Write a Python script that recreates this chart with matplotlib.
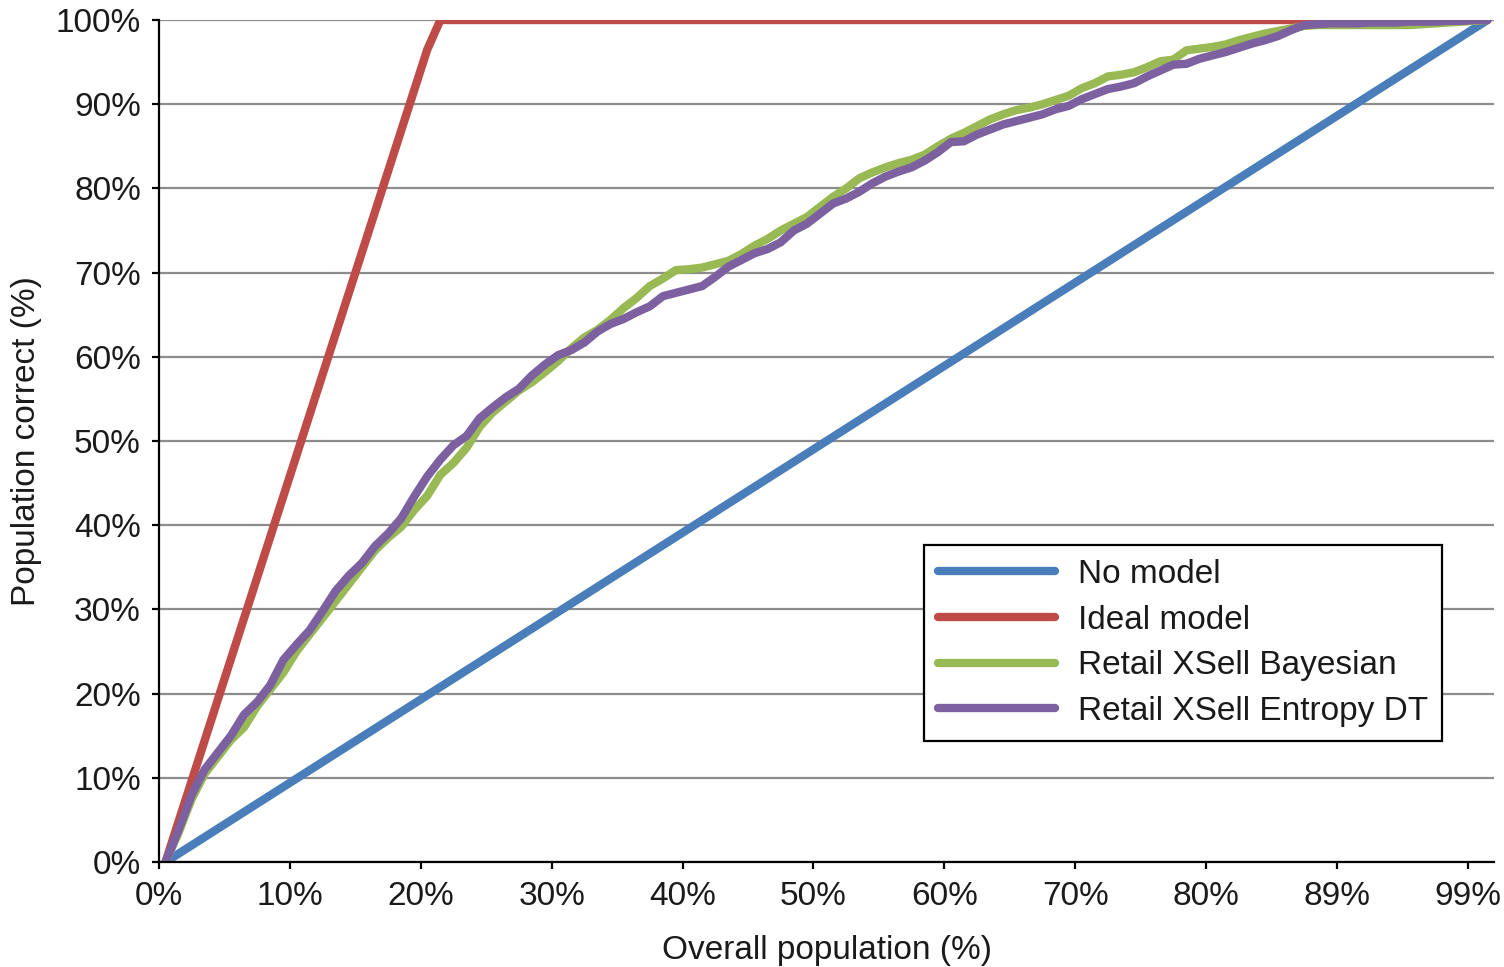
import matplotlib.pyplot as plt
from matplotlib.ticker import FuncFormatter

plt.rcParams['font.family'] = ['Liberation Sans', 'DejaVu Sans']

# x tick labels (every 10th category)
tick_labels = ['0%', '10%', '20%', '30%', '40%', '50%', '60%', '70%', '80%', '89%', '99%']

# straight reference lines (category index, % correct)
no_model_x = [0, 101]
no_model_y = [0, 100]
ideal_x = [0, 20, 21, 101]
ideal_y = [0, 96.5, 100, 100]

# model curves, one value per category 0..101
bayesian = [0, 3.5, 7.5, 10.5, 12.5, 14.5, 16.0, 18.5, 20.5, 22.5,
            25.0, 27.0, 29.0, 31.0, 33.0, 35.0, 37.0, 38.5, 39.8, 41.8,
            43.5, 46.0, 47.4, 49.2, 51.7, 53.4, 54.7, 56.0, 57.0, 58.2,
            59.5, 61.0, 62.3, 63.2, 64.4, 65.8, 67.0, 68.4, 69.3, 70.3,
            70.4, 70.6, 71.0, 71.4, 72.2, 73.2, 74.0, 75.0, 75.8, 76.6,
            77.8, 79.0, 80.0, 81.2, 81.9, 82.5, 83.0, 83.4, 84.0, 85.0,
            85.9, 86.6, 87.4, 88.2, 88.8, 89.3, 89.6, 90.0, 90.5, 91.0,
            91.9, 92.5, 93.3, 93.5, 93.8, 94.4, 95.1, 95.3, 96.4, 96.6,
            96.8, 97.1, 97.6, 98.0, 98.4, 98.7, 99.0, 99.3, 99.4, 99.4,
            99.4, 99.4, 99.4, 99.4, 99.4, 99.4, 99.5, 99.6, 99.7, 99.8,
            99.9, 100]
entropy_dt = [0, 3.8, 8.0, 11.0, 13.0, 15.0, 17.5, 19.0, 21.0, 24.0,
              25.8, 27.5, 29.8, 32.2, 34.0, 35.5, 37.5, 39.0, 40.8, 43.4,
              45.8, 47.8, 49.5, 50.6, 52.7, 54.0, 55.2, 56.2, 57.8, 59.1,
              60.2, 60.8, 61.7, 63.0, 63.9, 64.5, 65.3, 66.0, 67.2, 67.6,
              68.0, 68.4, 69.5, 70.7, 71.5, 72.3, 72.8, 73.6, 75.0, 75.8,
              77.0, 78.2, 78.8, 79.6, 80.6, 81.4, 82.0, 82.5, 83.3, 84.3,
              85.5, 85.6, 86.4, 87.0, 87.6, 88.0, 88.4, 88.8, 89.4, 89.8,
              90.6, 91.2, 91.8, 92.1, 92.5, 93.3, 94.0, 94.7, 94.8, 95.4,
              95.8, 96.2, 96.7, 97.2, 97.6, 98.1, 98.8, 99.4, 99.5, 99.6,
              99.6, 99.6, 99.7, 99.7, 99.7, 99.8, 99.8, 99.8, 99.9, 99.9,
              100, 100]

fig = plt.figure(figsize=(15.04, 9.67), dpi=100)
ax = fig.add_axes([0.1057, 0.1086, 0.8877, 0.8707])

# categories sit between tick marks -> shift by half a category
off = 0.5
lw = 6
ax.plot([x + off for x in no_model_x], no_model_y, color='#4a7ebb', lw=lw,
        solid_capstyle='round', label='No model')
ax.plot([x + off for x in ideal_x], ideal_y, color='#be4b48', lw=lw,
        solid_capstyle='round', solid_joinstyle='round', label='Ideal model')
cats = [i + off for i in range(len(bayesian))]
ax.plot(cats, bayesian, color='#98b954', lw=lw, solid_capstyle='round',
        solid_joinstyle='round', label='Retail XSell Bayesian')
ax.plot(cats, entropy_dt, color='#7d60a0', lw=lw, solid_capstyle='round',
        solid_joinstyle='round', label='Retail XSell Entropy DT')

ax.set_xlim(0, 102)
ax.set_ylim(0, 100)
ax.set_xticks(range(0, 101, 10))
ax.set_xticklabels(tick_labels)
ax.set_yticks(range(0, 101, 10))
ax.yaxis.set_major_formatter(FuncFormatter(lambda v, p: '%d%%' % v))

ax.grid(axis='y', color='#8c8c8c', lw=1.6)
ax.set_axisbelow(True)
for s in ['top', 'right']:
    ax.spines[s].set_visible(False)
for s in ['left', 'bottom']:
    ax.spines[s].set_linewidth(1.6)
    ax.spines[s].set_color('black')
ax.tick_params(axis='both', direction='out', length=5, width=1.6,
               labelsize=24, colors='black', labelcolor='#1a1a1a')
ax.tick_params(axis='x', pad=9)
ax.tick_params(axis='y', pad=8)

ax.set_xlabel('Overall population (%)', fontsize=24, color='#1a1a1a', labelpad=16)
ax.set_ylabel('Population correct (%)', fontsize=24, color='#1a1a1a', labelpad=10)

leg = ax.legend(loc='upper left', bbox_to_anchor=(0.573, 0.3765),
                fontsize=24, handlelength=3.5, handletextpad=0.7,
                labelspacing=0.44, borderpad=0.42, borderaxespad=0,
                fancybox=False, framealpha=1, edgecolor='black')
leg.get_frame().set_linewidth(1.6)
for t in leg.get_texts():
    t.set_color('#1a1a1a')

fig.savefig('out.png', dpi=100)
